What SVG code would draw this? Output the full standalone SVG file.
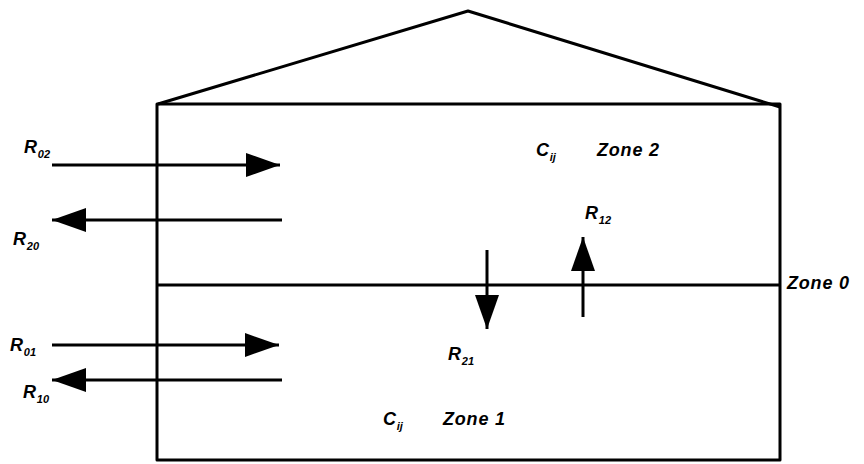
<svg xmlns="http://www.w3.org/2000/svg" width="864" height="464" viewBox="0 0 864 464">
<style>
.s{fill:none;stroke:#000;stroke-width:3;stroke-linejoin:round}
.a{fill:none;stroke:#000;stroke-width:3}
.t{font-family:"Liberation Sans",Arial,sans-serif;font-style:italic;font-weight:bold;font-size:18px;fill:#000;letter-spacing:0.8px}
.sub{font-size:11px;letter-spacing:0}
</style>
<defs>
<marker id="ah" markerUnits="userSpaceOnUse" markerWidth="36" markerHeight="26" refX="34" refY="13" orient="auto">
<path d="M0,1 L34,13 L0,25 Z" fill="#000"/>
</marker>
</defs>
<rect width="864" height="464" fill="#fff"/>
<g id="building">
<polyline class="s" points="158,104 468,11 780,107"/>
<rect class="s" x="157" y="104" width="623" height="356"/>
<line class="s" x1="157" y1="285" x2="780" y2="285"/>
</g>
<g id="connectors">
<line class="a" x1="52" y1="165" x2="280" y2="165" marker-end="url(#ah)"/>
<line class="a" x1="282" y1="220" x2="52" y2="220" marker-end="url(#ah)"/>
<line class="a" x1="52" y1="345" x2="279" y2="345" marker-end="url(#ah)"/>
<line class="a" x1="282" y1="380" x2="52" y2="380" marker-end="url(#ah)"/>
<line class="a" x1="487" y1="250" x2="487" y2="329" marker-end="url(#ah)"/>
<line class="a" x1="583" y1="317" x2="583" y2="237" marker-end="url(#ah)"/>
</g>
<g id="labels">
<text class="t" x="24" y="153">R<tspan class="sub" dy="5">02</tspan></text>
<text class="t" x="13" y="245">R<tspan class="sub" dy="5">20</tspan></text>
<text class="t" x="10" y="351">R<tspan class="sub" dy="5">01</tspan></text>
<text class="t" x="23" y="398">R<tspan class="sub" dy="5">10</tspan></text>
<text class="t" x="448" y="360">R<tspan class="sub" dy="5">21</tspan></text>
<text class="t" x="585" y="219">R<tspan class="sub" dy="5">12</tspan></text>
<text class="t" x="536" y="156">C<tspan class="sub" dy="5">ij</tspan></text>
<text class="t" x="597" y="156">Zone 2</text>
<text class="t" x="383" y="425">C<tspan class="sub" dy="5">ij</tspan></text>
<text class="t" x="443" y="425">Zone 1</text>
<text class="t" x="787" y="289">Zone 0</text>
</g>
</svg>
